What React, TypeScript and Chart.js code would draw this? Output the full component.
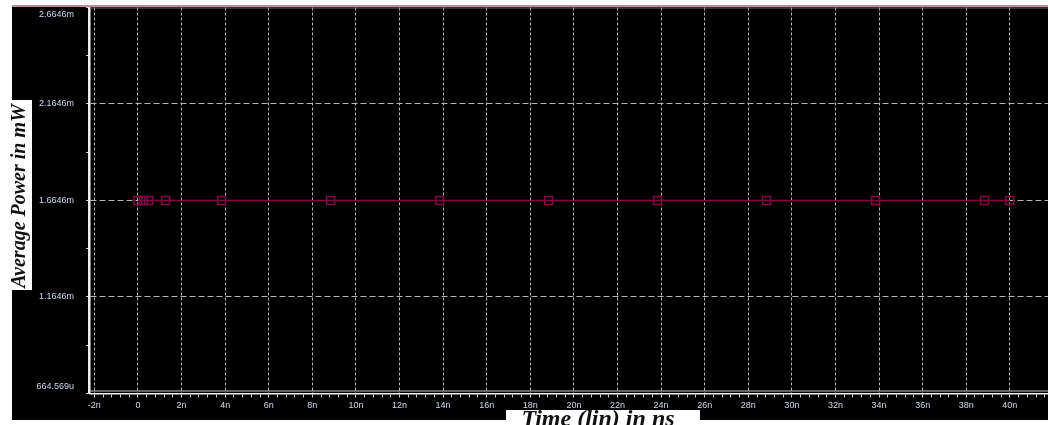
import React, { useEffect, useRef } from 'react';
import { Chart, registerables } from 'chart.js';

Chart.register(...registerables);

// ---- data ----
const timeNs = [0, 0.25, 0.5, 1.27, 3.84, 8.84, 13.84, 18.84, 23.84, 28.84, 33.84, 38.84, 40];
const powerMw = [1.6646, 1.6646, 1.6646, 1.6646, 1.6646, 1.6646, 1.6646, 1.6646, 1.6646, 1.6646, 1.6646, 1.6646, 1.6646];

const xMajorTicks = [-2, 0, 2, 4, 6, 8, 10, 12, 14, 16, 18, 20, 22, 24, 26, 28, 30, 32, 34, 36, 38, 40];
const xTickLabels = ['-2n', '0', '2n', '4n', '6n', '8n', '10n', '12n', '14n', '16n', '18n', '20n', '22n', '24n', '26n', '28n', '30n', '32n', '34n', '36n', '38n', '40n'];

const yMajorTicks = [0.664569, 1.1646, 1.6646, 2.1646, 2.6646];
const yTickLabels = ['664.569u', '1.1646m', '1.6646m', '2.1646m', '2.6646m'];
const yMinorTicks = [0.9146, 1.4146, 1.9146, 2.4146];

const xTitle = 'Time (lin) in ns';
const yTitle = 'Average Power in mW';

const X_MIN = -2.2;
const X_MAX = 41.75;
const Y_MIN = 0.664569;
const Y_MAX = 2.6646;

const W = 1048;
const H = 425;

const near = (a: number, b: number) => Math.abs(a - b) < 1e-6;
const xMajorIndex = (v: number) => xMajorTicks.findIndex((t) => near(t, v));
const yMajorIndex = (v: number) => yMajorTicks.findIndex((t) => near(t, v));

const labelColor = '#cfd8ee';
const gridColor = '#b4b4b4';

const zeroPad = (scale: any) => {
  scale.paddingTop = 0;
  scale.paddingBottom = 0;
  scale.paddingLeft = 0;
  scale.paddingRight = 0;
};

const framePlugin = {
  id: 'frame',
  beforeDraw(chart: any) {
    const ctx = chart.ctx;
    ctx.save();
    ctx.fillStyle = '#ffffff';
    ctx.fillRect(0, 0, W, H);
    ctx.fillStyle = '#000000';
    ctx.fillRect(12, 7, W - 12, 413);
    // white boxes behind axis titles
    ctx.fillStyle = '#ffffff';
    ctx.fillRect(0, 100, 32, 190);
    ctx.fillRect(506, 410, 194, 15);
    // top frame line
    ctx.strokeStyle = '#a8677a';
    ctx.lineWidth = 1.5;
    ctx.beginPath();
    ctx.moveTo(12, 6);
    ctx.lineTo(W, 6);
    ctx.stroke();
    ctx.restore();
  },
  afterDraw(chart: any) {
    const ctx = chart.ctx;
    const area = chart.chartArea;
    ctx.save();
    // second (inner) axis lines
    ctx.strokeStyle = '#c8c8c8';
    ctx.lineWidth = 1;
    ctx.beginPath();
    ctx.moveTo(area.left, area.bottom - 2.5);
    ctx.lineTo(area.right, area.bottom - 2.5);
    ctx.stroke();
    ctx.strokeStyle = '#e8e8e8';
    ctx.beginPath();
    ctx.moveTo(area.left - 1.5, area.top);
    ctx.lineTo(area.left - 1.5, area.bottom);
    ctx.stroke();
    // grey line under the top frame
    ctx.strokeStyle = '#6a6a6a';
    ctx.beginPath();
    ctx.moveTo(area.left, 8);
    ctx.lineTo(W, 8);
    ctx.stroke();

    // axis titles
    ctx.fillStyle = '#111111';
    ctx.textAlign = 'center';
    ctx.font = 'italic bold 20px "Liberation Serif", "Times New Roman", serif';
    ctx.save();
    ctx.translate(20, 196);
    ctx.rotate(-Math.PI / 2);
    ctx.textBaseline = 'middle';
    ctx.fillText(yTitle, 0, 0);
    ctx.restore();

    ctx.font = 'italic bold 24px "Liberation Serif", "Times New Roman", serif';
    ctx.textBaseline = 'alphabetic';
    ctx.fillText(xTitle, 598, 426);
    ctx.restore();
  },
};

export default function App() {
  const canvasRef = useRef<HTMLCanvasElement | null>(null);

  useEffect(() => {
    const canvas = canvasRef.current;
    if (!canvas) return;

    const chart = new Chart(canvas, {
      type: 'line',
      data: {
        datasets: [
          {
            label: 'Average Power',
            data: timeNs.map((t, i) => ({ x: t, y: powerMw[i] })),
            borderColor: '#800845',
            borderWidth: 1.5,
            pointStyle: 'rect',
            pointRadius: 5.6,
            pointBorderWidth: 1.5,
            pointBorderColor: '#800845',
            pointBackgroundColor: 'rgba(0,0,0,0)',
            fill: false,
            tension: 0,
          },
        ],
      },
      options: {
        responsive: false,
        animation: false,
        events: [],
        layout: { autoPadding: false, padding: { left: 0, right: 0, top: 7.5, bottom: 0 } },
        plugins: {
          legend: { display: false },
          tooltip: { enabled: false },
          title: { display: false },
        },
        scales: {
          x: {
            type: 'linear',
            min: X_MIN,
            max: X_MAX,
            afterBuildTicks: (scale: any) => {
              const vals: number[] = [];
              for (let i = 0; i < xMajorTicks.length; i++) {
                const m = xMajorTicks[i];
                vals.push(m);
                for (let k = 1; k <= 4; k++) {
                  const v = m + k * 0.4;
                  if (v < X_MAX) vals.push(v);
                }
              }
              scale.ticks = vals.map((v) => ({ value: v }));
            },
            afterFit: (scale: any) => {
              scale.height = 31.5;
              zeroPad(scale);
            },
            ticks: {
              autoSkip: false,
              maxRotation: 0,
              minRotation: 0,
              padding: 3,
              color: labelColor,
              font: { family: '"Liberation Sans", Arial, sans-serif', size: 9 },
              callback: (v: any) => {
                const i = xMajorIndex(Number(v));
                return i >= 0 ? xTickLabels[i] : '';
              },
            },
            grid: {
              color: (ctx: any) => (ctx.tick && xMajorIndex(ctx.tick.value) >= 0 ? gridColor : 'rgba(0,0,0,0)'),
              tickColor: '#d0d0d0',
              tickLength: 4,
              lineWidth: 1,
            },
            border: { display: true, color: '#f0f0f0', width: 1.5, dash: [3, 2] },
          },
          y: {
            type: 'linear',
            min: Y_MIN,
            max: Y_MAX,
            afterBuildTicks: (scale: any) => {
              const vals = [...yMajorTicks, ...yMinorTicks].sort((a, b) => a - b);
              scale.ticks = vals.map((v) => ({ value: v }));
            },
            afterFit: (scale: any) => {
              scale.width = 90;
              zeroPad(scale);
            },
            ticks: {
              autoSkip: false,
              padding: 12,
              color: labelColor,
              font: { family: '"Liberation Sans", Arial, sans-serif', size: 9, lineHeight: 1.6 },
              callback: (v: any) => {
                const i = yMajorIndex(Number(v));
                if (i < 0) return '';
                // keep the edge labels inside the plot frame, as in the original viewer
                if (i === yMajorTicks.length - 1) return ['', yTickLabels[i]];
                if (i === 0) return [yTickLabels[i], ''];
                return yTickLabels[i];
              },
            },
            grid: {
              color: (ctx: any) => {
                if (!ctx.tick) return 'rgba(0,0,0,0)';
                const v = ctx.tick.value;
                const i = yMajorIndex(v);
                if (i <= 0 || i === yMajorTicks.length - 1) return 'rgba(0,0,0,0)';
                return gridColor;
              },
              tickColor: '#d0d0d0',
              tickLength: 4,
              lineWidth: 1,
            },
            border: { display: true, color: '#f4f4f4', width: 1.5, dash: [6, 3] },
          },
        },
      },
      plugins: [framePlugin],
    } as any);

    return () => {
      chart.destroy();
    };
  }, []);

  return (
    <div style={{ position: 'fixed', left: 0, top: 0, width: W, height: H, background: '#ffffff' }}>
      <canvas ref={canvasRef} width={W} height={H} style={{ display: 'block', width: W, height: H }} />
    </div>
  );
}
